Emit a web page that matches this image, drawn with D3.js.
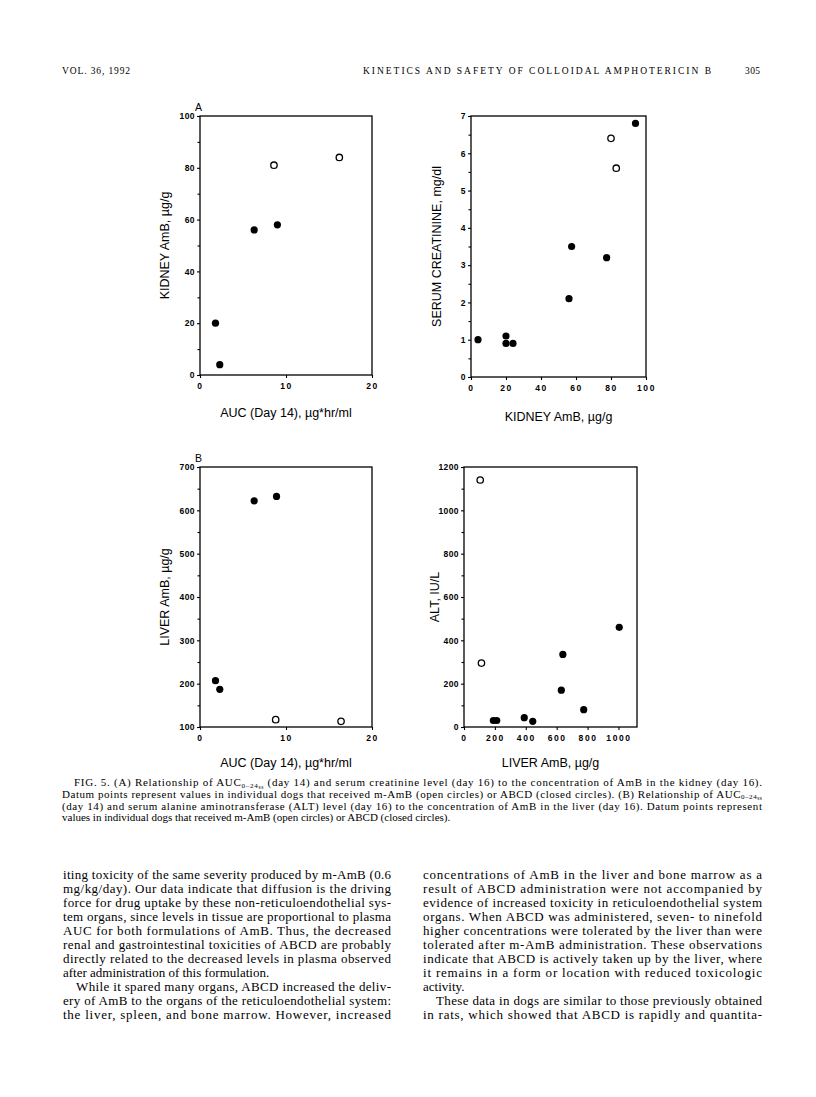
<!DOCTYPE html>
<html>
<head>
<meta charset="utf-8">
<script src="https://d3js.org/d3.v7.min.js"></script>
<style>
  body { margin: 0; background: #fff; }
  svg text { fill: #000; }
</style>
</head>
<body>
<svg id="page" width="816" height="1097"></svg>
<script>
// Panel A (left): AUC vs kidney AmB
const aucKidneyClosed = [1.8, 2.3, 6.3, 9.0];
const kidneyAmbClosed = [20, 4, 56, 58];
const aucKidneyOpen = [8.6, 16.2];
const kidneyAmbOpen = [81, 84];

// Panel A (right): kidney AmB vs serum creatinine
const kidneyCreatClosed = [4, 20, 20, 24, 56, 57.5, 77.5, 94];
const creatinineClosed = [1.0, 1.1, 0.9, 0.9, 2.1, 3.5, 3.2, 6.8];
const kidneyCreatOpen = [80, 83];
const creatinineOpen = [6.4, 5.6];

// Panel B (left): AUC vs liver AmB
const aucLiverClosed = [1.8, 2.3, 6.3, 8.9];
const liverAmbClosed = [207, 187, 622, 632];
const aucLiverOpen = [8.8, 16.4];
const liverAmbOpen = [117, 113];

// Panel B (right): liver AmB vs ALT
const liverAltClosed = [190, 212, 390, 445, 630, 640, 775, 1005];
const altClosed = [30, 30, 43, 26, 170, 335, 80, 460];
const liverAltOpen = [105, 113];
const altOpen = [1140, 295];

const ticksAuc = [0, 10, 20];
const ticksKidney = [0, 20, 40, 60, 80, 100];
const ticksCreat = [0, 1, 2, 3, 4, 5, 6, 7];
const ticksLiver = [100, 200, 300, 400, 500, 600, 700];
const ticksLiverX = [0, 200, 400, 600, 800, 1000];
const ticksAlt = [0, 200, 400, 600, 800, 1000, 1200];

const svg = d3.select('#page');
const sans = "'Liberation Sans', Arial, sans-serif";
const serif = "'Liberation Serif', 'Times New Roman', serif";

function zip(xs, ys) { return xs.map((v, i) => [v, ys[i]]); }

function scatter(p) {
  const x = d3.scaleLinear().domain(p.xDomain).range([p.left, p.right]);
  const y = d3.scaleLinear().domain(p.yDomain).range([p.bottom, p.top]);
  const g = svg.append('g');

  g.append('rect')
    .attr('x', p.left).attr('y', p.top)
    .attr('width', p.right - p.left).attr('height', p.bottom - p.top)
    .attr('fill', 'none').attr('stroke', '#000').attr('stroke-width', 1.3);

  // minor y ticks
  g.append('g').attr('transform', `translate(${p.left},0)`)
    .call(d3.axisLeft(y).tickValues(p.yMinor).tickSize(2.5).tickFormat(''))
    .call(a => a.select('.domain').remove());

  const ya = g.append('g').attr('transform', `translate(${p.left},0)`)
    .call(d3.axisLeft(y).tickValues(p.yTicks).tickSize(3).tickPadding(2).tickFormat(d3.format('d')));
  ya.select('.domain').remove();
  ya.selectAll('text').attr('font-family', sans).attr('font-weight', 'bold')
    .attr('font-size', 8.5).attr('letter-spacing', 0.4);

  const xa = g.append('g').attr('transform', `translate(0,${p.bottom})`)
    .call(d3.axisBottom(x).tickValues(p.xTicks).tickSize(3).tickPadding(5).tickFormat(d3.format('d')));
  xa.select('.domain').remove();
  xa.selectAll('text').attr('font-family', sans).attr('font-weight', 'bold')
    .attr('font-size', 8.5).attr('letter-spacing', 1.6);
  g.selectAll('.tick line').attr('stroke-width', 1.1);

  g.selectAll('circle.closed').data(zip(p.closedX, p.closedY)).join('circle')
    .attr('class', 'closed')
    .attr('cx', d => x(d[0])).attr('cy', d => y(d[1])).attr('r', 3.6)
    .attr('fill', '#000');
  g.selectAll('circle.open').data(zip(p.openX, p.openY)).join('circle')
    .attr('class', 'open')
    .attr('cx', d => x(d[0])).attr('cy', d => y(d[1])).attr('r', 3.2)
    .attr('fill', '#fff').attr('stroke', '#000').attr('stroke-width', 1.3);

  g.append('text')
    .attr('x', (p.left + p.right) / 2).attr('y', p.xTitleY)
    .attr('text-anchor', 'middle').attr('font-family', sans).attr('font-size', 12.5)
    .text(p.xTitle);
  g.append('text')
    .attr('transform', `translate(${p.yTitleX},${(p.top + p.bottom) / 2}) rotate(-90)`)
    .attr('text-anchor', 'middle').attr('font-family', sans).attr('font-size', 12.5)
    .text(p.yTitle);
  if (p.letter) {
    g.append('text').attr('x', p.left - 5).attr('y', p.top - 5)
      .attr('font-family', sans).attr('font-size', 10.5).text(p.letter);
  }
}

scatter({
  left: 200, right: 372, top: 116, bottom: 375,
  xDomain: [0, 20], yDomain: [0, 100],
  xTicks: ticksAuc, yTicks: ticksKidney, yMinor: [10, 30, 50, 70, 90],
  closedX: aucKidneyClosed, closedY: kidneyAmbClosed,
  openX: aucKidneyOpen, openY: kidneyAmbOpen,
  xTitle: 'AUC (Day 14), µg*hr/ml', xTitleY: 417,
  yTitle: 'KIDNEY AmB, µg/g', yTitleX: 169, letter: 'A'
});

scatter({
  left: 471, right: 646, top: 116, bottom: 377,
  xDomain: [0, 100], yDomain: [0, 7],
  xTicks: ticksKidney, yTicks: ticksCreat, yMinor: [0.5, 1.5, 2.5, 3.5, 4.5, 5.5, 6.5],
  closedX: kidneyCreatClosed, closedY: creatinineClosed,
  openX: kidneyCreatOpen, openY: creatinineOpen,
  xTitle: 'KIDNEY AmB, µg/g', xTitleY: 421,
  yTitle: 'SERUM CREATININE, mg/dl', yTitleX: 441
});

scatter({
  left: 200, right: 372, top: 467, bottom: 727,
  xDomain: [0, 20], yDomain: [100, 700],
  xTicks: ticksAuc, yTicks: ticksLiver, yMinor: [150, 250, 350, 450, 550, 650],
  closedX: aucLiverClosed, closedY: liverAmbClosed,
  openX: aucLiverOpen, openY: liverAmbOpen,
  xTitle: 'AUC (Day 14), µg*hr/ml', xTitleY: 767,
  yTitle: 'LIVER AmB, µg/g', yTitleX: 169, letter: 'B'
});

scatter({
  left: 464, right: 637, top: 467, bottom: 727,
  xDomain: [0, 1120], yDomain: [0, 1200],
  xTicks: ticksLiverX, yTicks: ticksAlt, yMinor: [100, 300, 500, 700, 900, 1100],
  closedX: liverAltClosed, closedY: altClosed,
  openX: liverAltOpen, openY: altOpen,
  xTitle: 'LIVER AmB, µg/g', xTitleY: 767,
  yTitle: 'ALT, IU/L', yTitleX: 439
});

// running head
function line(x, y, str, size, len, family) {
  const t = svg.append('text').attr('x', x).attr('y', y)
    .attr('font-family', family || serif).attr('font-size', size).text(str);
  if (len) t.attr('textLength', len).attr('lengthAdjust', 'spacing');
  return t;
}
line(62, 74, 'VOL. 36, 1992', 9.5, 68);
line(363, 74, 'KINETICS AND SAFETY OF COLLOIDAL AMPHOTERICIN B', 9.5, 348);
line(745, 74, '305', 9.5, 15);

// caption
const captionLines = [
  ['FIG. 5. (A) Relationship of AUC', '(day 14) and serum creatinine level (day 16) to the concentration of AmB in the kidney (day 16).'],
  ['Datum points represent values in individual dogs that received m-AmB (open circles) or ABCD (closed circles). (B) Relationship of AUC', ''],
  ['(day 14) and serum alanine aminotransferase (ALT) level (day 16) to the concentration of AmB in the liver (day 16). Datum points represent', null],
  ['values in individual dogs that received m-AmB (open circles) or ABCD (closed circles).', null]
];
captionLines.forEach((c, i) => {
  const x0 = i === 0 ? 74 : 62;
  const t = svg.append('text').attr('x', x0).attr('y', 786 + i * 11.8)
    .attr('font-family', serif).attr('font-size', 11);
  t.append('tspan').text(c[0]);
  if (c[1] !== null) {
    t.append('tspan').attr('font-size', 7).attr('dy', 1.5).text('0–24');
    t.append('tspan').attr('font-size', 5.5).attr('dy', 1).text('ss');
    t.append('tspan').attr('dy', -2.5).text(c[1] ? ' ' + c[1] : '');
  }
  if (i < 3) t.attr('textLength', 762 - x0).attr('lengthAdjust', 'spacing');
});

// body text, two columns
const leftCol = [
  'iting toxicity of the same severity produced by m-AmB (0.6',
  'mg/kg/day). Our data indicate that diffusion is the driving',
  'force for drug uptake by these non-reticuloendothelial sys-',
  'tem organs, since levels in tissue are proportional to plasma',
  'AUC for both formulations of AmB. Thus, the decreased',
  'renal and gastrointestinal toxicities of ABCD are probably',
  'directly related to the decreased levels in plasma observed',
  'after administration of this formulation.',
  'While it spared many organs, ABCD increased the deliv-',
  'ery of AmB to the organs of the reticuloendothelial system:',
  'the liver, spleen, and bone marrow. However, increased'
];
const leftEnds = [7];
const leftIndents = [8];
const rightCol = [
  'concentrations of AmB in the liver and bone marrow as a',
  'result of ABCD administration were not accompanied by',
  'evidence of increased toxicity in reticuloendothelial system',
  'organs. When ABCD was administered, seven- to ninefold',
  'higher concentrations were tolerated by the liver than were',
  'tolerated after m-AmB administration. These observations',
  'indicate that ABCD is actively taken up by the liver, where',
  'it remains in a form or location with reduced toxicologic',
  'activity.',
  'These data in dogs are similar to those previously obtained',
  'in rats, which showed that ABCD is rapidly and quantita-'
];
const rightEnds = [8];
const rightIndents = [9];

function column(lines, ends, indents, x0, x1) {
  lines.forEach((s, i) => {
    const xs = indents.includes(i) ? x0 + 13 : x0;
    const t = line(xs, 879 + i * 14, s, 13);
    if (!ends.includes(i)) t.attr('textLength', x1 - xs).attr('lengthAdjust', 'spacing');
  });
}
column(leftCol, leftEnds, leftIndents, 63, 391);
column(rightCol, rightEnds, rightIndents, 423, 762);
</script>
</body>
</html>
